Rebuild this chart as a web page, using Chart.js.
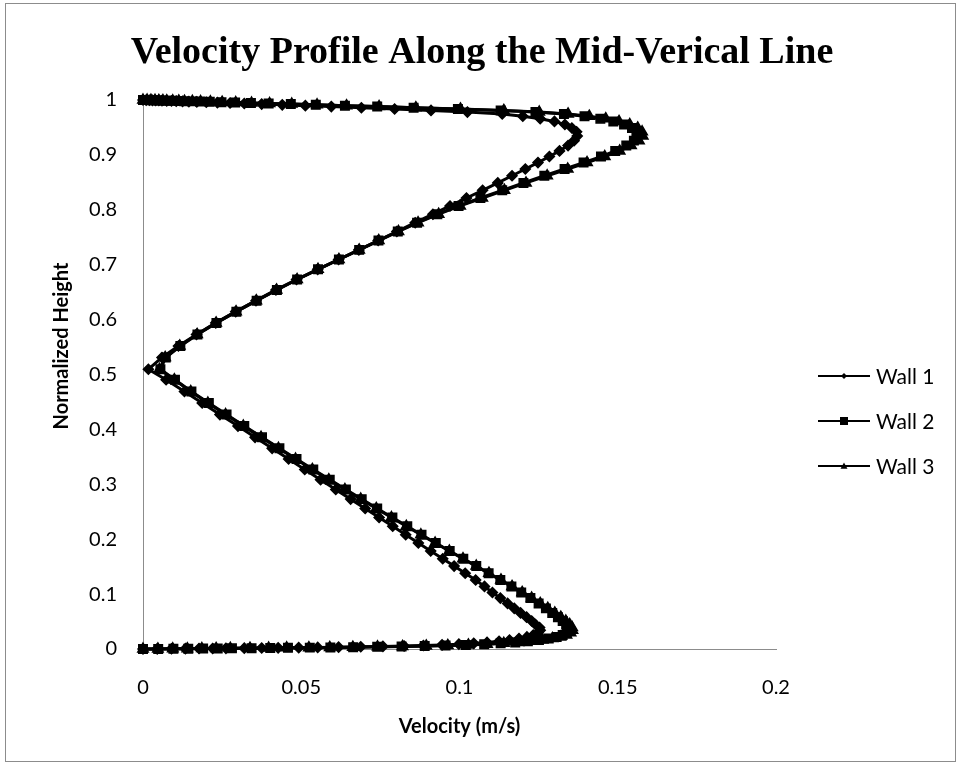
<!DOCTYPE html>
<html>
<head>
<meta charset="utf-8">
<script src="https://cdn.jsdelivr.net/npm/chart.js@4.4.1/dist/chart.umd.min.js"></script>
<style>
  html, body { margin: 0; padding: 0; background: #ffffff; }
  #wrap { position: relative; width: 963px; height: 769px; }
</style>
</head>
<body>
<div id="wrap"><canvas id="chart" width="963" height="769"></canvas></div>
<script>
// Normalized height of each sample along the mid-vertical line (shared by all walls)
const heights = [
  0, 0.0002, 0.0004, 0.0006, 0.0008, 0.001, 0.0012, 0.0015, 0.0018, 0.0021,
  0.0025, 0.0029, 0.0034, 0.004, 0.0047, 0.0055, 0.0064, 0.0075, 0.0088, 0.0103,
  0.012, 0.014, 0.0163, 0.019, 0.022, 0.0255, 0.0295, 0.034, 0.039, 0.0447,
  0.051, 0.058, 0.0657, 0.074, 0.083, 0.0927, 0.103, 0.114, 0.1257, 0.138,
  0.151, 0.1645, 0.1785, 0.193, 0.208, 0.2235, 0.2395, 0.256, 0.273, 0.2905,
  0.3085, 0.327, 0.346, 0.3655, 0.3855, 0.406, 0.427, 0.448, 0.469, 0.4905,
  0.5095, 0.531, 0.552, 0.573, 0.594, 0.6145, 0.6345, 0.654, 0.673, 0.6915,
  0.7095, 0.727, 0.744, 0.7605, 0.7765, 0.792, 0.807, 0.8215, 0.8355, 0.849,
  0.862, 0.8743, 0.886, 0.897, 0.9073, 0.917, 0.926, 0.9343, 0.942, 0.949,
  0.9553, 0.961, 0.966, 0.9705, 0.9745, 0.978, 0.981, 0.9837, 0.986, 0.988,
  0.9897, 0.9912, 0.9925, 0.9936, 0.9945, 0.9953, 0.996, 0.9966, 0.9971, 0.9975,
  0.9979, 0.9982, 0.9985, 0.9988, 0.999, 0.9992, 0.9994, 0.9996, 0.9998, 1
];

// Velocity (m/s) at each height
const wall1 = [
  0, 0.0045, 0.009, 0.0134, 0.0177, 0.022, 0.0262, 0.032, 0.0375, 0.0427,
  0.0492, 0.0552, 0.0618, 0.0688, 0.0758, 0.0825, 0.0886, 0.0945, 0.0998, 0.1045,
  0.1087, 0.1125, 0.1158, 0.1188, 0.1213, 0.1233, 0.1248, 0.1255, 0.1253, 0.124,
  0.1228, 0.1212, 0.1193, 0.1173, 0.1152, 0.1129, 0.1104, 0.1079, 0.1051, 0.1018,
  0.0983, 0.0947, 0.0909, 0.087, 0.083, 0.0789, 0.0746, 0.0702, 0.0656, 0.0609,
  0.0561, 0.0511, 0.046, 0.0408, 0.0354, 0.03, 0.0243, 0.0187, 0.0131, 0.0073,
  0.0017, 0.006, 0.0112, 0.0169, 0.023, 0.0293, 0.0357, 0.042, 0.0485, 0.0552,
  0.0618, 0.0682, 0.0743, 0.0802, 0.086, 0.0916, 0.097, 0.1022, 0.1073, 0.1121,
  0.1166, 0.1208, 0.1248, 0.1284, 0.1316, 0.1343, 0.1362, 0.1372, 0.137, 0.1355,
  0.1333, 0.13, 0.1255, 0.12, 0.1135, 0.1025, 0.091, 0.0795, 0.069, 0.0595,
  0.0513, 0.044, 0.0375, 0.032, 0.0275, 0.0235, 0.02, 0.017, 0.0145, 0.0125,
  0.0105, 0.009, 0.0075, 0.006, 0.005, 0.004, 0.003, 0.002, 0.001, 0
];

const wall2 = [
  0, 0.0048, 0.0096, 0.0143, 0.019, 0.0236, 0.0281, 0.0343, 0.0402, 0.0458,
  0.0527, 0.0592, 0.0664, 0.074, 0.0817, 0.089, 0.0956, 0.102, 0.1078, 0.113,
  0.1176, 0.1216, 0.1251, 0.1282, 0.1307, 0.1326, 0.1339, 0.1345, 0.1344, 0.1337,
  0.1326, 0.1311, 0.1293, 0.1273, 0.125, 0.1224, 0.1195, 0.1164, 0.1129, 0.1092,
  0.1053, 0.1012, 0.0969, 0.0925, 0.088, 0.0835, 0.0788, 0.074, 0.0691, 0.0641,
  0.059, 0.0538, 0.0485, 0.0431, 0.0376, 0.032, 0.0264, 0.0208, 0.0153, 0.0101,
  0.0055, 0.0072, 0.0118, 0.0172, 0.0232, 0.0295, 0.0359, 0.0423, 0.0487, 0.0553,
  0.0619, 0.0683, 0.0744, 0.0805, 0.0866, 0.093, 0.0997, 0.1066, 0.1135, 0.1202,
  0.1268, 0.1332, 0.1392, 0.1447, 0.1492, 0.1527, 0.1551, 0.1562, 0.1559, 0.1545,
  0.152, 0.1486, 0.1445, 0.1395, 0.133, 0.124, 0.113, 0.0995, 0.0855, 0.074,
  0.0638, 0.0546, 0.0467, 0.0397, 0.0341, 0.0291, 0.0248, 0.0211, 0.018, 0.0155,
  0.013, 0.0112, 0.0093, 0.0074, 0.0062, 0.005, 0.0037, 0.0025, 0.0012, 0
];

const wall3 = [
  0, 0.0047, 0.0094, 0.014, 0.0186, 0.0231, 0.0276, 0.0338, 0.0397, 0.0454,
  0.0524, 0.059, 0.0663, 0.0741, 0.082, 0.0895, 0.0963, 0.1028, 0.1087, 0.114,
  0.1187, 0.1228, 0.1263, 0.1294, 0.1319, 0.1338, 0.1351, 0.1357, 0.1356, 0.1348,
  0.1336, 0.132, 0.1301, 0.1279, 0.1255, 0.1228, 0.1198, 0.1166, 0.1131, 0.1093,
  0.1053, 0.1011, 0.0968, 0.0923, 0.0878, 0.0832, 0.0785, 0.0737, 0.0688, 0.0638,
  0.0587, 0.0535, 0.0482, 0.0428, 0.0373, 0.0317, 0.0261, 0.0205, 0.0151, 0.0099,
  0.0052, 0.007, 0.0116, 0.0171, 0.0231, 0.0294, 0.0358, 0.0422, 0.0487, 0.0553,
  0.0619, 0.0683, 0.0745, 0.0807, 0.0869, 0.0934, 0.1002, 0.1072, 0.1142, 0.121,
  0.1277, 0.1342, 0.1403, 0.1459, 0.1506, 0.1542, 0.1567, 0.1579, 0.1577, 0.1563,
  0.1538, 0.1504, 0.1462, 0.141, 0.1343, 0.1252, 0.114, 0.1003, 0.0862, 0.0746,
  0.0643, 0.055, 0.047, 0.04, 0.0343, 0.0293, 0.025, 0.0213, 0.0182, 0.0156,
  0.0131, 0.0113, 0.0094, 0.0075, 0.0063, 0.005, 0.0038, 0.0025, 0.0013, 0
];

const seriesNames = ['Wall 1', 'Wall 2', 'Wall 3'];
const xTickValues = [0, 0.05, 0.1, 0.15, 0.2];
const yTickValues = [0, 0.1, 0.2, 0.3, 0.4, 0.5, 0.6, 0.7, 0.8, 0.9, 1];
const chartTitle = 'Velocity Profile Along the Mid-Verical Line';

const SANS = 'Lato, "Open Sans", sans-serif';
const markerStyles = ['rectRot', 'rect', 'triangle'];
const markerRadius = [5, 6, 6];

function toPoints(values) {
  return values.map((v, i) => ({ x: v, y: heights[i] }));
}

const datasets = [wall1, wall2, wall3].map((vals, i) => ({
  label: seriesNames[i],
  data: toPoints(vals),
  showLine: true,
  borderColor: '#000000',
  backgroundColor: '#000000',
  borderWidth: 3,
  tension: 0,
  pointStyle: markerStyles[i],
  pointRadius: markerRadius[i],
  pointBorderWidth: 1.5,
  pointBorderColor: '#000000',
  pointBackgroundColor: '#000000',
  clip: false
}));

function drawMarker(ctx, style, x, y, r) {
  ctx.beginPath();
  if (style === 'rectRot') {
    ctx.moveTo(x, y - r); ctx.lineTo(x + r, y); ctx.lineTo(x, y + r); ctx.lineTo(x - r, y);
  } else if (style === 'rect') {
    ctx.rect(x - r, y - r, 2 * r, 2 * r);
  } else {
    ctx.moveTo(x, y - r); ctx.lineTo(x + r, y + r * 0.8); ctx.lineTo(x - r, y + r * 0.8);
  }
  ctx.closePath();
  ctx.fill();
}

// Sheet background, outer frame, title, vertical axis title and the legend
const frame = {
  id: 'frame',
  beforeDraw(chart) {
    const ctx = chart.ctx;
    ctx.save();
    ctx.fillStyle = '#ffffff';
    ctx.fillRect(0, 0, chart.width, chart.height);
    ctx.strokeStyle = '#8c8c8c';
    ctx.lineWidth = 1;
    ctx.strokeRect(5.5, 3.5, 950, 758);
    ctx.restore();
  },
  afterDraw(chart) {
    const ctx = chart.ctx;
    ctx.save();
    ctx.fillStyle = '#000000';
    ctx.font = 'bold 38px "Liberation Serif", "Times New Roman", serif';
    ctx.textAlign = 'center';
    ctx.textBaseline = 'alphabetic';
    ctx.fillText(chartTitle, 482, 63);
    ctx.restore();

    ctx.save();
    ctx.translate(62, 346);
    ctx.rotate(-Math.PI / 2);
    ctx.fillStyle = '#000000';
    ctx.font = 'bold 20px ' + SANS;
    ctx.textAlign = 'center';
    ctx.textBaseline = 'middle';
    ctx.fillText('Normalized Height', 0, 0);
    ctx.restore();

    const legendY = [376, 421, 466];
    const legendR = [3, 4, 3.5];
    ctx.save();
    ctx.font = '21px ' + SANS;
    ctx.textBaseline = 'middle';
    ctx.textAlign = 'left';
    chart.data.datasets.forEach((ds, i) => {
      const y = legendY[i];
      ctx.strokeStyle = '#000000';
      ctx.lineWidth = 2;
      ctx.beginPath();
      ctx.moveTo(818, y);
      ctx.lineTo(870, y);
      ctx.stroke();
      ctx.fillStyle = '#000000';
      drawMarker(ctx, markerStyles[i], 844, y, legendR[i]);
      ctx.fillText(ds.label, 876, y + 1);
    });
    ctx.restore();
  }
};

const fmt = v => String(parseFloat(Number(v).toFixed(2)));

new Chart(document.getElementById('chart'), {
  type: 'scatter',
  data: { datasets },
  plugins: [frame],
  options: {
    responsive: false,
    animation: false,
    devicePixelRatio: 1,
    layout: { padding: { left: 0, right: 187, top: 100, bottom: 0 } },
    plugins: {
      legend: { display: false },
      tooltip: { enabled: false },
      title: { display: false }
    },
    scales: {
      x: {
        type: 'linear',
        min: xTickValues[0],
        max: xTickValues[xTickValues.length - 1],
        afterBuildTicks: s => { s.ticks = xTickValues.map(v => ({ value: v })); },
        afterFit: s => { s.height = 120; },
        grid: { display: false, drawTicks: false },
        border: { display: true, color: '#8c8c8c', width: 1 },
        ticks: {
          color: '#000000',
          font: { family: SANS, size: 20 },
          padding: 27,
          maxRotation: 0,
          callback: fmt
        },
        title: {
          display: true,
          text: 'Velocity (m/s)',
          color: '#000000',
          font: { family: SANS, size: 20, weight: 'bold' },
          padding: { top: 0, bottom: 30 }
        }
      },
      y: {
        type: 'linear',
        min: yTickValues[0],
        max: yTickValues[yTickValues.length - 1],
        afterBuildTicks: s => { s.ticks = yTickValues.map(v => ({ value: v })); },
        afterFit: s => { s.width = 143; },
        grid: { display: false, drawTicks: false },
        border: { display: true, color: '#8c8c8c', width: 1 },
        ticks: {
          color: '#000000',
          font: { family: SANS, size: 20 },
          padding: 26,
          callback: fmt
        }
      }
    }
  }
});
</script>
</body>
</html>
